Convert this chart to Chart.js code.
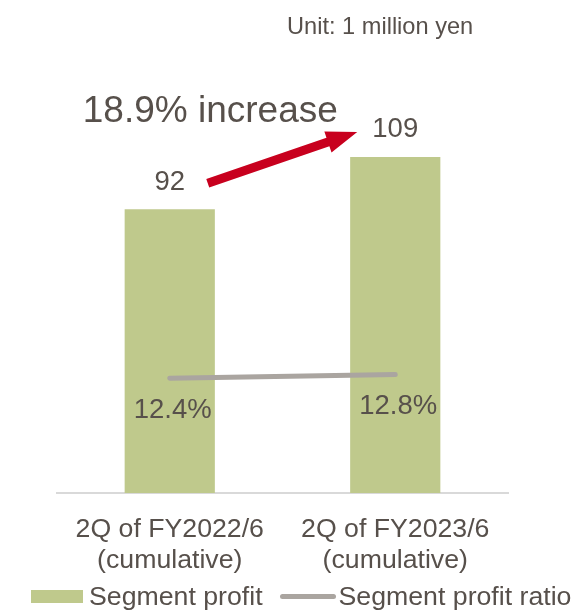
<!DOCTYPE html>
<html>
<head>
<meta charset="utf-8">
<script src="https://cdn.jsdelivr.net/npm/chart.js@4.4.0/dist/chart.umd.min.js"></script>
<style>
    html, body { margin: 0; padding: 0; background: #fff; }
    body { font-family: Arial, "Liberation Sans", sans-serif; color: #57504b; }
    #wrap { position: relative; width: 585px; height: 612px; overflow: hidden; }
    #chart { position: absolute; left: 0; top: 0; }
    #unit { position: absolute; left: 287px; top: 13px; font-size: 23.6px; white-space: nowrap; }
    #legend { position: absolute; left: 31px; top: 581px; display: flex; align-items: center; font-size: 26.7px; white-space: nowrap; }
    #legend .item { display: flex; align-items: center; }
    #legend .box { width: 52px; height: 13px; margin-right: 6px; }
    #legend .line { width: 56px; height: 5px; border-radius: 3px; margin-left: 17px; margin-right: 3px; }
</style>
</head>
<body>
<div id="wrap">
    <canvas id="chart" width="585" height="612"></canvas>
    <div id="unit">Unit: 1 million yen</div>
    <div id="legend"></div>
</div>
<script>
const periods = [["2Q of FY2022/6", "(cumulative)"], ["2Q of FY2023/6", "(cumulative)"]];
const segmentProfit = [92, 109];
const profitRatio = [12.4, 12.8];
const increaseText = "18.9% increase";

const textColor = "#57504b";
const fontFamily = "Arial, 'Liberation Sans', sans-serif";

// value labels above the bars and under the ratio line, plus the growth arrow
const labelsPlugin = {
    id: "labels",
    afterDatasetsDraw(chart) {
        const c = chart.ctx;
        const xs = chart.scales.x;
        const ys = chart.scales.y;
        c.save();
        c.fillStyle = textColor;
        c.textAlign = "center";
        c.textBaseline = "middle";
        c.font = "27.5px " + fontFamily;

        chart.getDatasetMeta(0).data.forEach((bar, i) => {
            c.fillText(String(segmentProfit[i]), bar.x, bar.y - 27);
        });
        chart.getDatasetMeta(1).data.forEach((pt, i) => {
            c.fillText(profitRatio[i].toFixed(1) + "%", pt.x + 3, pt.y + 32);
        });

        // arrow from the first value label towards the second
        const x0 = xs.getPixelForValue(0), x1 = xs.getPixelForValue(1);
        const tail = { x: x0 + 38, y: ys.getPixelForValue(segmentProfit[0]) - 26 };
        const tip = { x: x1 - 38, y: ys.getPixelForValue(segmentProfit[1]) - 25 };
        const ang = Math.atan2(tip.y - tail.y, tip.x - tail.x);
        const len = Math.hypot(tip.x - tail.x, tip.y - tail.y);
        const shaft = 4.5, head = 11, headLen = 31;
        c.translate(tail.x, tail.y);
        c.rotate(ang);
        c.beginPath();
        c.moveTo(0, -shaft);
        c.lineTo(len - headLen, -shaft);
        c.lineTo(len - headLen, -head);
        c.lineTo(len, 0);
        c.lineTo(len - headLen, head);
        c.lineTo(len - headLen, shaft);
        c.lineTo(0, shaft);
        c.closePath();
        c.fillStyle = "#c8001e";
        c.fill();
        c.restore();

        c.save();
        c.fillStyle = textColor;
        c.font = "37px " + fontFamily;
        c.textBaseline = "middle";
        c.textAlign = "left";
        c.fillText(increaseText, x0 - 87, ys.getPixelForValue(segmentProfit[1]) - 45);
        c.restore();
    }
};

const ctx = document.getElementById("chart");

const config = {
    type: "bar",
    data: {
        labels: periods,
        datasets: [{
            label: "Segment profit",
            data: segmentProfit,
            backgroundColor: "#bfc98c",
            barPercentage: 0.4,
            categoryPercentage: 1,
            yAxisID: "y",
            order: 1
        }, {
            type: "line",
            label: "Segment profit ratio",
            data: profitRatio,
            borderColor: "#aaa5a0",
            borderWidth: 5,
            borderCapStyle: "round",
            pointRadius: 0,
            yAxisID: "y2",
            order: 0
        }]
    },
    options: {
        responsive: false,
        animation: false,
        layout: {
            padding: { left: 57, right: 77, top: 123, bottom: 39 }
        },
        plugins: {
            legend: { display: false },
            tooltip: { enabled: false }
        },
        scales: {
            x: {
                grid: { display: false },
                border: { display: true, color: "#d9d9d9", width: 2 },
                ticks: {
                    color: textColor,
                    font: { size: 26.7, family: fontFamily, lineHeight: 1.13 },
                    padding: 14,
                    maxRotation: 0
                },
                afterFit: (scale) => { scale.height = 80; }
            },
            y: { display: false, min: 0, max: 120 },
            y2: { display: false, min: 0, max: 40 }
        }
    },
    plugins: [labelsPlugin]
};

const chartBar = new Chart(ctx, config);

// legend built from the chart's datasets
const legend = document.getElementById("legend");
chartBar.data.datasets.forEach((ds) => {
    const item = document.createElement("div");
    item.className = "item";
    const mark = document.createElement("span");
    if (ds.type === "line") {
        mark.className = "line";
        mark.style.background = ds.borderColor;
    } else {
        mark.className = "box";
        mark.style.background = ds.backgroundColor;
    }
    item.appendChild(mark);
    item.appendChild(document.createTextNode(ds.label));
    legend.appendChild(item);
});
</script>
</body>
</html>
